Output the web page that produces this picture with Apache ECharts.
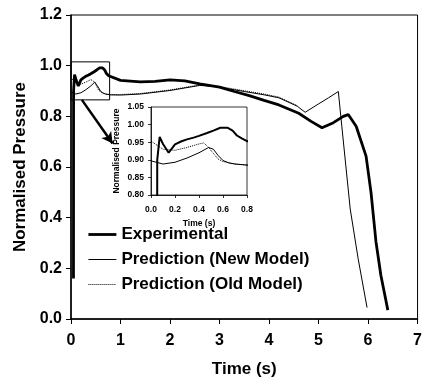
<!DOCTYPE html>
<html><head><meta charset="utf-8">
<script src="https://cdn.jsdelivr.net/npm/echarts@6/dist/echarts.min.js"></script>
<style>html,body{margin:0;padding:0;background:#fff}#c{width:425px;height:383px}</style>
</head><body><div id="c"></div>
<script>
// ---- data ----
const timeExp = [0.05, 0.052, 0.072, 0.10, 0.147, 0.2, 0.25, 0.3, 0.355, 0.4, 0.467, 0.52, 0.578, 0.64, 0.68, 0.716, 0.76, 0.8, 1.0, 1.4, 1.7, 2.0, 2.3, 2.6, 3.0, 3.3, 3.6, 3.9, 4.2, 4.6, 4.85, 5.07, 5.3, 5.5, 5.6, 5.76, 5.96, 6.06, 6.16, 6.26, 6.4];
const pExp    = [0.16, 0.90, 0.965, 0.945, 0.92, 0.944, 0.952, 0.958, 0.963, 0.968, 0.976, 0.983, 0.991, 0.991, 0.983, 0.969, 0.96, 0.953, 0.942, 0.936, 0.938, 0.944, 0.94, 0.928, 0.915, 0.898, 0.882, 0.863, 0.845, 0.812, 0.78, 0.755, 0.775, 0.8, 0.807, 0.761, 0.643, 0.5, 0.305, 0.172, 0.035];

const timeNew = [0, 0.1, 0.2, 0.3, 0.4, 0.48, 0.52, 0.56, 0.6, 0.65, 0.7, 0.8, 1.0, 1.4, 1.7, 2.0, 2.3, 2.6, 2.9, 3.2, 3.5, 3.9, 4.2, 4.57, 4.73, 5.0, 5.2, 5.40, 5.47, 5.64, 5.80, 5.98];
const pNew    = [0.897, 0.888, 0.893, 0.905, 0.92, 0.935, 0.93, 0.912, 0.898, 0.891, 0.888, 0.885, 0.884, 0.888, 0.895, 0.902, 0.912, 0.922, 0.918, 0.908, 0.898, 0.885, 0.873, 0.84, 0.816, 0.849, 0.873, 0.898, 0.761, 0.434, 0.238, 0.045];

const timeOld = [0, 0.1, 0.2, 0.3, 0.4, 0.44, 0.48, 0.52, 0.56, 0.6, 0.7, 0.8, 1.0, 1.4, 1.7, 2.0, 2.3, 2.6, 2.9, 3.2, 3.5, 3.9, 4.2, 4.57];
const pOld    = [0.953, 0.93, 0.927, 0.935, 0.945, 0.948, 0.935, 0.918, 0.902, 0.895, 0.888, 0.885, 0.886, 0.89, 0.897, 0.904, 0.914, 0.924, 0.921, 0.911, 0.901, 0.888, 0.876, 0.842];

const seriesNames = ['Experimental', 'Prediction (New Model)', 'Prediction (Old Model)'];
// zoom box (data coords) and arrow (data coords)
const zoomBox = [[0, 1.015], [0.78, 0.865]];
const arrowLine = [[0.22, 0.865], [0.84, 0.693]];

const zip = (t, p) => t.map((x, i) => [x, p[i]]);
const F = "'Liberation Sans', Arial, sans-serif";

const chart = echarts.init(document.getElementById('c'), null, {renderer: 'canvas'});

function styles(i, inset) {
  if (i === 0) return {color: '#000', width: inset ? 2 : 2.8, type: 'solid'};
  if (i === 1) return {color: '#000', width: 1, type: 'solid'};
  return {color: '#000', width: 1, type: 'dotted'};
}
const datas = [zip(timeExp, pExp), zip(timeNew, pNew), zip(timeOld, pOld)];

const series = [];
datas.forEach((d, i) => {
  const s = {
    name: seriesNames[i], type: 'line', data: d, xAxisIndex: 0, yAxisIndex: 0,
    showSymbol: false, symbol: 'none', smooth: false, lineStyle: styles(i, false),
    itemStyle: {color: '#000'}, animation: false, z: 3 - i + 2
  };
  if (i === 0) {
    s.markArea = {silent: true, itemStyle: {color: 'rgba(0,0,0,0)', borderColor: '#000', borderWidth: 1},
      label: {show: false}, data: [[{coord: zoomBox[0]}, {coord: zoomBox[1]}]]};
    s.markLine = {silent: true, symbol: ['none', 'arrow'], symbolSize: [9, 11],
      lineStyle: {color: '#000', width: 2.5, type: 'solid'}, label: {show: false},
      data: [[{coord: arrowLine[0]}, {coord: arrowLine[1]}]]};
  }
  series.push(s);
});
datas.forEach((d, i) => {
  series.push({
    name: seriesNames[i], type: 'line', data: d, xAxisIndex: 1, yAxisIndex: 1,
    showSymbol: false, symbol: 'none', lineStyle: styles(i, true), itemStyle: {color: '#000'},
    clip: true, animation: false, z: 10
  });
});

const hidden = {color: 'rgba(0,0,0,0)', borderColor: 'rgba(0,0,0,0)', borderWidth: 0, opacity: 0};

chart.setOption({
  backgroundColor: '#fff',
  animation: false,
  textStyle: {fontFamily: F},
  grid: [
    {left: 71, top: 15, right: 3, bottom: 62, show: true, borderColor: '#000', borderWidth: 1, backgroundColor: 'transparent'},
    {left: 151, top: 107, width: 96, height: 88, show: true, borderColor: '#000', borderWidth: 0.8, backgroundColor: '#fff', z: 8}
  ],
  xAxis: [
    {type: 'value', gridIndex: 0, min: 0, max: 7, interval: 1,
      name: 'Time (s)', nameLocation: 'middle', nameGap: 42,
      nameTextStyle: {fontFamily: F, fontWeight: 'bold', fontSize: 17, color: '#000'},
      axisLine: {lineStyle: {color: '#000', width: 1.5}},
      axisTick: {show: true, inside: false, length: 5, lineStyle: {color: '#000', width: 1}},
      axisLabel: {fontFamily: F, fontWeight: 'bold', fontSize: 16, color: '#000', margin: 14},
      splitLine: {show: false}},
    {type: 'value', gridIndex: 1, min: 0, max: 0.8, interval: 0.2,
      name: 'Time (s)', nameLocation: 'middle', nameGap: 24,
      nameTextStyle: {fontFamily: F, fontWeight: 'bold', fontSize: 8.5, color: '#000'},
      axisLine: {lineStyle: {color: '#000', width: 0.8}},
      axisTick: {show: true, length: 3, lineStyle: {color: '#000', width: 0.8}},
      axisLabel: {fontFamily: F, fontWeight: 'bold', fontSize: 8.5, color: '#000', margin: 10,
        formatter: v => v.toFixed(1)},
      splitLine: {show: false}, z: 9}
  ],
  yAxis: [
    {type: 'value', gridIndex: 0, min: 0, max: 1.2, interval: 0.2,
      name: 'Normalised Pressure', nameLocation: 'middle', nameGap: 40, nameRotate: 90,
      nameTextStyle: {fontFamily: F, fontWeight: 'bold', fontSize: 17, color: '#000'},
      axisLine: {show: true, lineStyle: {color: '#000', width: 1.5}},
      axisTick: {show: true, length: 5, lineStyle: {color: '#000', width: 1}},
      axisLabel: {fontFamily: F, fontWeight: 'bold', fontSize: 16, color: '#000', margin: 9,
        formatter: v => v.toFixed(1)},
      splitLine: {show: false}},
    {type: 'value', gridIndex: 1, min: 0.8, max: 1.05, interval: 0.05,
      name: 'Normalised Pressure', nameLocation: 'middle', nameGap: 30, nameRotate: 90,
      nameTextStyle: {fontFamily: F, fontWeight: 'bold', fontSize: 8.5, color: '#000'},
      axisLine: {show: true, lineStyle: {color: '#000', width: 0.8}},
      axisTick: {show: true, length: 3, lineStyle: {color: '#000', width: 0.8}},
      axisLabel: {fontFamily: F, fontWeight: 'bold', fontSize: 8.5, color: '#000', margin: 7,
        formatter: v => v.toFixed(2)},
      splitLine: {show: false}, z: 9}
  ],
  legend: {
    show: true, orient: 'vertical', left: 87, top: 226, padding: 0, itemGap: 8,
    itemWidth: 28, itemHeight: 14,
    data: seriesNames.map((n, i) => ({name: n, itemStyle: hidden, lineStyle: styles(i, false)})),
    itemStyle: hidden,
    textStyle: {fontFamily: F, fontWeight: 'bold', fontSize: 17, color: '#000'},
    selectedMode: false
  },
  series: series
});
</script>
</body></html>
